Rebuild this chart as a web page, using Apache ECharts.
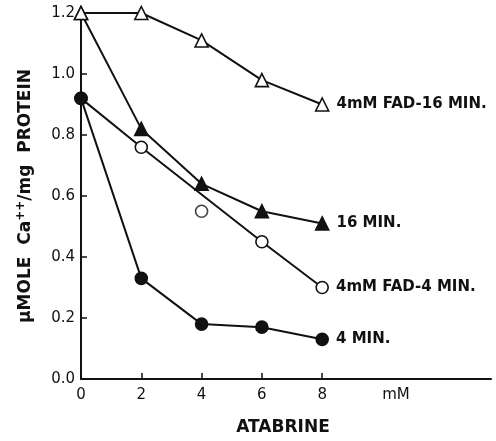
<!DOCTYPE html>
<html>
<head>
<meta charset="utf-8">
<script src="https://cdn.jsdelivr.net/npm/echarts@6/dist/echarts.min.js"></script>
<style>
  html, body { margin: 0; padding: 0; background: #fff; }
  #chart { width: 496px; height: 441px; }
</style>
</head>
<body>
<div id="chart"></div>
<script>
// Atabrine concentration (mM)
const doses = [0, 2, 4, 6, 8];
const tickLabels = ['0', '2', '4', '6', '8'];

// Ca++ uptake, µmole / mg protein
const fad16min = [1.20, 1.20, 1.11, 0.98, 0.90];
const min16 = [1.20, 0.82, 0.64, 0.55, 0.51];
const fad4min = [0.92, 0.76, 0.55, 0.45, 0.30];
const min4 = [0.92, 0.33, 0.18, 0.17, 0.13];

// the 4 mM point of the FAD-4 MIN set lies off its drawn line
const fad4minOffLine = [2];

const seriesNames = ['4mM FAD-16 MIN.', '16 MIN.', '4mM FAD-4 MIN.', '4 MIN.'];

const font = '"DejaVu Sans", "Liberation Sans", sans-serif';
const ink = '#111';

function pairs(values, skip) {
  const out = [];
  values.forEach((v, i) => {
    if (!skip || skip.indexOf(i) < 0) out.push([doses[i], v]);
  });
  return out;
}

function withEndLabel(data, text) {
  const last = data.length - 1;
  data[last] = {
    value: data[last],
    label: {
      show: true, position: 'right', distance: 7,
      formatter: text, color: ink, fontFamily: font, fontSize: 15, fontWeight: 'bold'
    }
  };
  return data;
}

function lineSeries(name, data, symbol, filled, z) {
  return {
    name, type: 'line', data, z,
    symbol, symbolSize: symbol === 'triangle' ? 13 : 12,
    lineStyle: { color: ink, width: 2 },
    itemStyle: { color: filled ? ink : '#fff', borderColor: ink, borderWidth: 1.6 },
    animation: false
  };
}

const chart = echarts.init(document.getElementById('chart'));
chart.setOption({
  animation: false,
  grid: { left: 81, top: 13, right: 5, bottom: 62 },
  xAxis: {
    type: 'value', min: 0, max: 13.6, interval: 2,
    axisLine: { lineStyle: { color: ink, width: 2 } },
    axisTick: { inside: true, length: 6, customValues: [2, 4, 6, 8], lineStyle: { color: ink, width: 1.5 } },
    axisLabel: {
      customValues: doses,
      formatter: v => tickLabels[doses.indexOf(v)] ?? '',
      color: ink, fontFamily: font, fontSize: 15, margin: 9
    },
    splitLine: { show: false }
  },
  yAxis: {
    type: 'value', min: 0, max: 1.2, interval: 0.2,
    axisLine: { show: true, lineStyle: { color: ink, width: 2 } },
    axisTick: { show: true, inside: true, length: 6, lineStyle: { color: ink, width: 1.5 } },
    axisLabel: {
      formatter: v => v.toFixed(1),
      color: ink, fontFamily: font, fontSize: 15, margin: 6
    },
    splitLine: { show: false },
    name: '{a|\u03BCMOLE  Ca}{s|++}{a|/mg  PROTEIN}',
    nameLocation: 'middle', nameGap: 44,
    nameTextStyle: {
      rich: {
        a: { fontFamily: font, fontSize: 17, fontWeight: 'bold', color: ink, lineHeight: 22 },
        s: { fontFamily: font, fontSize: 12, fontWeight: 'bold', color: ink, verticalAlign: 'top', lineHeight: 22 }
      }
    }
  },
  series: [
    lineSeries(seriesNames[1], withEndLabel(pairs(min16), seriesNames[1]), 'triangle', true, 2),
    lineSeries(seriesNames[0], withEndLabel(pairs(fad16min), seriesNames[0]), 'triangle', false, 3),
    lineSeries(seriesNames[2], withEndLabel(pairs(fad4min, fad4minOffLine), seriesNames[2]), 'circle', false, 2),
    {
      name: seriesNames[2], type: 'scatter', z: 2,
      data: fad4minOffLine.map(i => [doses[i], fad4min[i]]),
      symbol: 'circle', symbolSize: 12,
      itemStyle: { color: '#fff', borderColor: ink, borderWidth: 1.6 }
    },
    lineSeries(seriesNames[3], withEndLabel(pairs(min4), seriesNames[3]), 'circle', true, 3)
  ],
  graphic: [
    { type: 'text', x: 396, y: 395,
      style: { text: 'mM', font: '15px ' + font, fill: ink, align: 'center', verticalAlign: 'middle' } },
    { type: 'text', x: 283, y: 428,
      style: { text: 'ATABRINE', font: 'bold 17px ' + font, fill: ink, align: 'center', verticalAlign: 'middle' } }
  ]
});
</script>
</body>
</html>
